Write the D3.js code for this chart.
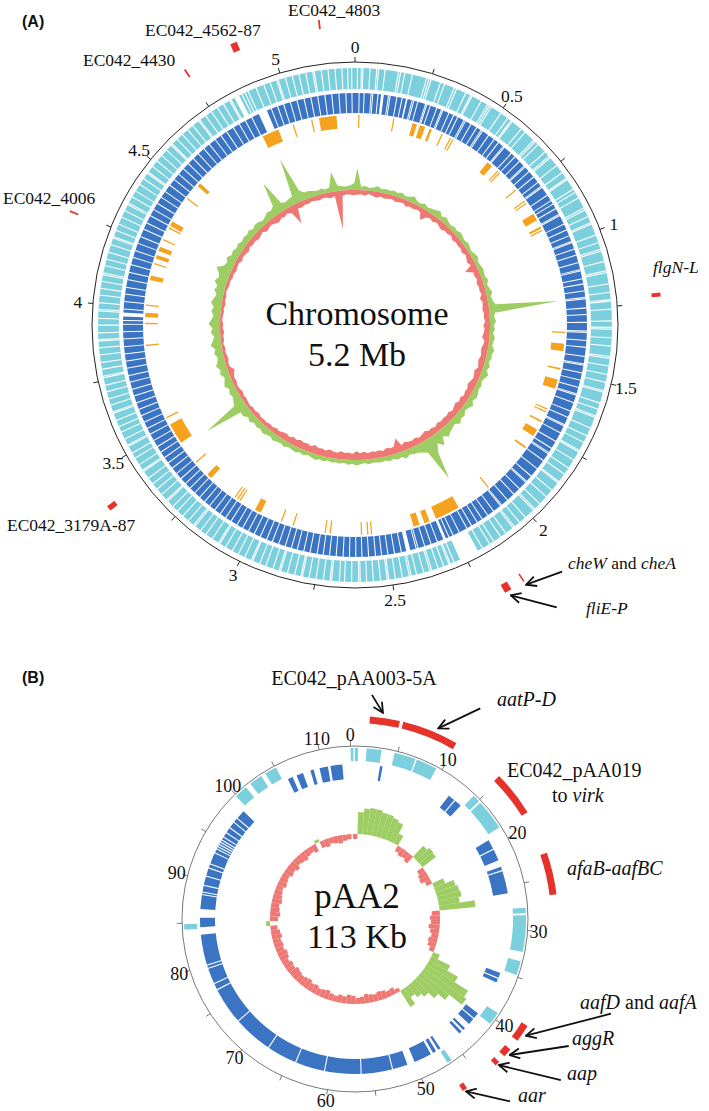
<!DOCTYPE html>
<html>
<head>
<meta charset="utf-8">
<script src="https://cdn.jsdelivr.net/npm/d3@7"></script>
<style>
body { margin: 0; background: #fff; }
text { font-family: "Liberation Serif", "Times New Roman", serif; fill: #111; }
.panel { font-family: "Liberation Sans", Arial, sans-serif; font-weight: bold; }
</style>
</head>
<body>
<div id="chart"></div>
<script>
// ---------- Datos: cromosoma (Mb) ----------
const chrLength = 5.242
const chrTicks = [0, 0.5, 1, 1.5, 2, 2.5, 3, 3.5, 4, 4.5, 5]
const chrTickLabels = ["0", "0.5", "1", "1.5", "2", "2.5", "3", "3.5", "4", "4.5", "5"]
const chrMinorTicks = [0.25, 0.75, 1.25, 1.75, 2.25, 2.75, 3.25, 3.75, 4.25, 4.75]

// white separators in the forward (light) CDS ring
const fwdGaps = [0.008, 0.021, 0.026, 0.049, 0.071, 0.077, 0.098, 0.142, 0.149, 0.163, 0.188, 0.236, 0.244, 0.251, 0.283, 0.297, 0.331, 0.339, 0.372, 0.389, 0.394, 0.428, 0.452, 0.459, 0.466, 0.503, 0.531, 0.544, 0.549, 0.587, 0.603, 0.641, 0.648, 0.661, 0.694, 0.713, 0.719, 0.752, 0.781, 0.804, 0.809, 0.846, 0.858, 0.879, 0.917, 0.924, 0.947, 0.969, 0.974, 1.012, 1.038, 1.061, 1.067, 1.102, 1.133, 1.139, 1.176, 1.204, 1.228, 1.233, 1.259, 1.297, 1.318, 1.324, 1.352, 1.379, 1.413, 1.419, 1.444, 1.472, 1.498, 1.526, 1.531, 1.568, 1.589, 1.612, 1.617, 1.655, 1.683, 1.706, 1.736, 1.741, 1.772, 1.803, 1.827, 1.857, 1.862, 1.893, 1.921, 1.952, 1.975, 1.981, 2.016, 2.041, 2.063, 2.069, 2.098, 2.118, 2.145, 2.161, 2.188, 2.291, 2.304, 2.309, 2.327, 2.346, 2.368, 2.374, 2.395, 2.419, 2.437, 2.443, 2.466, 2.489, 2.511, 2.516, 2.538, 2.561, 2.583, 2.604, 2.609, 2.632, 2.655, 2.672, 2.697, 2.702, 2.724, 2.748, 2.771, 2.793, 2.798, 2.819, 2.843, 2.866, 2.871, 2.892, 2.917, 2.938, 2.962, 2.967, 2.991, 3.014, 3.036, 3.061, 3.083, 3.088, 3.112, 3.137, 3.158, 3.181, 3.187, 3.209, 3.233, 3.257, 3.278, 3.302, 3.307, 3.331, 3.354, 3.376, 3.399, 3.426, 3.431, 3.452, 3.477, 3.496, 3.521, 3.526, 3.548, 3.573, 3.592, 3.614, 3.639, 3.644, 3.667, 3.688, 3.712, 3.734, 3.759, 3.764, 3.787, 3.809, 3.834, 3.857, 3.879, 3.884, 3.906, 3.931, 3.953, 3.977, 3.982, 4.004, 4.029, 4.051, 4.074, 4.096, 4.102, 4.126, 4.148, 4.171, 4.197, 4.219, 4.224, 4.246, 4.268, 4.293, 4.316, 4.338, 4.344, 4.367, 4.389, 4.414, 4.437, 4.458, 4.463, 4.486, 4.509, 4.532, 4.556, 4.578, 4.583, 4.605, 4.628, 4.651, 4.672, 4.697, 4.702, 4.725, 4.748, 4.771, 4.794, 4.817, 4.822, 4.862, 4.873, 4.884, 4.912, 4.939, 4.961, 4.984, 4.989, 5.013, 5.036, 5.058, 5.081, 5.104, 5.109, 5.132, 5.154, 5.177, 5.199, 5.218, 5.231]
const fwdBlanks = [[2.205, 2.27], [4.835, 4.852]]

// white separators in the reverse (dark) CDS ring
const revGaps = [0.015, 0.033, 0.058, 0.064, 0.083, 0.121, 0.127, 0.152, 0.171, 0.208, 0.214, 0.229, 0.258, 0.263, 0.276, 0.301, 0.319, 0.324, 0.348, 0.367, 0.383, 0.408, 0.414, 0.437, 0.461, 0.479, 0.485, 0.512, 0.537, 0.556, 0.578, 0.583, 0.616, 0.634, 0.657, 0.681, 0.686, 0.708, 0.733, 0.758, 0.776, 0.781, 0.815, 0.839, 0.853, 0.872, 0.896, 0.901, 0.935, 0.958, 0.981, 1.003, 1.008, 1.032, 1.055, 1.083, 1.109, 1.114, 1.143, 1.162, 1.187, 1.211, 1.216, 1.249, 1.273, 1.301, 1.332, 1.337, 1.366, 1.391, 1.424, 1.451, 1.456, 1.484, 1.511, 1.538, 1.562, 1.567, 1.595, 1.628, 1.652, 1.681, 1.686, 1.714, 1.749, 1.778, 1.796, 1.801, 1.831, 1.868, 1.902, 1.927, 1.932, 1.964, 1.992, 2.023, 2.051, 2.056, 2.087, 2.113, 2.137, 2.158, 2.182, 2.201, 2.232, 2.257, 2.273, 2.318, 2.342, 2.366, 2.391, 2.398, 2.453, 2.478, 2.502, 2.525, 2.547, 2.572, 2.596, 2.618, 2.641, 2.664, 2.689, 2.713, 2.736, 2.758, 2.784, 2.807, 2.831, 2.853, 2.876, 2.901, 2.925, 2.947, 2.972, 2.996, 3.019, 3.043, 3.066, 3.091, 3.114, 3.138, 3.162, 3.186, 3.209, 3.233, 3.257, 3.281, 3.304, 3.328, 3.352, 3.377, 3.401, 3.424, 3.448, 3.471, 3.497, 3.523, 3.546, 3.571, 3.597, 3.621, 3.646, 3.672, 3.697, 3.724, 3.748, 3.775, 3.801, 3.827, 3.853, 3.881, 3.907, 3.934, 3.948, 3.989, 4.016, 4.043, 4.068, 4.096, 4.123, 4.151, 4.178, 4.204, 4.232, 4.258, 4.287, 4.312, 4.341, 4.366, 4.392, 4.418, 4.443, 4.471, 4.497, 4.522, 4.548, 4.573, 4.599, 4.624, 4.651, 4.676, 4.703, 4.728, 4.753, 4.781, 4.806, 4.831, 4.857, 4.934, 4.958, 4.981, 5.006, 5.031, 5.057, 5.082, 5.107, 5.133, 5.158, 5.184, 5.209, 5.231]
const revBlanks = [[0.094, 0.104], [0.185, 0.191], [2.285, 2.295], [2.42, 2.435], [3.962, 3.976], [4.885, 4.917]]

// orange ring (islands), [start, end] in Mb
const chrIslands = [[0.013, 0.018], [0.153, 0.158], [0.232, 0.250], [0.262, 0.284], [0.303, 0.313], [0.355, 0.360], [0.392, 0.396], [0.403, 0.407], [0.570, 0.594], [0.622, 0.626], [0.632, 0.636], [0.725, 0.730], [0.782, 0.786], [0.793, 0.797], [0.845, 0.875], [0.903, 0.912], [0.918, 0.922], [1.337, 1.342], [1.385, 1.415], [1.483, 1.490], [1.530, 1.568], [1.652, 1.657], [1.664, 1.669], [1.705, 1.712], [1.745, 1.775], [1.826, 1.834], [2.045, 2.050], [2.190, 2.290], [2.318, 2.340], [2.360, 2.385], [2.553, 2.557], [2.568, 2.572], [2.593, 2.597], [2.718, 2.722], [2.738, 2.742], [2.868, 2.873], [2.918, 2.923], [3.010, 3.035], [3.103, 3.107], [3.114, 3.118], [3.126, 3.130], [3.250, 3.272], [3.335, 3.340], [3.435, 3.520], [3.548, 3.553], [3.848, 3.852], [3.935, 3.940], [3.962, 3.980], [4.008, 4.013], [4.112, 4.130], [4.176, 4.181], [4.200, 4.215], [4.232, 4.250], [4.278, 4.283], [4.330, 4.336], [4.342, 4.362], [4.468, 4.473], [4.535, 4.550], [4.862, 4.930], [4.990, 4.995], [5.066, 5.071], [5.098, 5.168]]

// GC plot, windows of 0.025 Mb: above average (green, outwards) and below (red, inwards)
const chrWindow = 0.025
const chrGCHigh = [34, 8, 10, 7, 9, 12, 8, 10, 9, 11, 9, 12, 8, 10, 14, 9, 7, 11, 8, 10, 12, 15, 9, 13, 10, 8, 11, 9, 12, 10, 8, 11, 9, 7, 10, 12, 8, 9, 11, 10, 9, 12, 8, 10, 13, 9, 11, 14, 84, 12, 10, 13, 9, 11, 8, 12, 10, 9, 14, 11, 12, 9, 13, 10, 15, 11, 9, 12, 10, 13, 14, 11, 16, 12, 10, 15, 13, 18, 12, 14, 16, 20, 14, 25, 18, 28, 60, 22, 18, 15, 14, 12, 16, 11, 13, 10, 12, 9, 11, 10, 9, 11, 8, 10, 12, 9, 11, 8, 10, 9, 10, 8, 11, 9, 12, 10, 8, 11, 9, 12, 11, 9, 13, 10, 12, 14, 11, 13, 15, 12, 14, 12, 16, 13, 18, 17, 62, 20, 17, 14, 16, 13, 18, 15, 12, 17, 14, 19, 15, 13, 17, 14, 20, 16, 13, 18, 15, 21, 17, 14, 18, 15, 20, 17, 14, 19, 16, 22, 18, 20, 26, 17, 15, 19, 14, 16, 13, 15, 12, 14, 12, 15, 11, 14, 13, 10, 12, 16, 14, 18, 48, 16, 13, 15, 16, 62, 20, 14, 14, 12, 10, 12, 9, 11, 32, 12, 10, 9, 11, 14]
const chrGCLow = [7, 6, 8, 5, 7, 9, 6, 8, 7, 6, 8, 7, 6, 9, 7, 8, 6, 7, 17, 9, 7, 9, 6, 8, 10, 7, 8, 6, 9, 7, 8, 7, 9, 6, 8, 10, 7, 19, 8, 9, 7, 10, 8, 9, 7, 11, 8, 9, 10, 8, 9, 7, 10, 8, 9, 11, 7, 8, 10, 9, 8, 10, 9, 7, 11, 9, 8, 10, 12, 9, 10, 8, 11, 9, 12, 10, 8, 11, 9, 10, 9, 11, 8, 10, 9, 12, 10, 8, 11, 9, 10, 12, 9, 22, 11, 10, 12, 9, 11, 10, 11, 9, 12, 10, 13, 9, 11, 10, 12, 9, 10, 12, 9, 11, 10, 13, 9, 11, 10, 12, 9, 11, 8, 10, 9, 7, 8, 6, 7, 5, 6, 5, 7, 5, 6, 4, 5, 6, 5, 7, 5, 4, 6, 5, 7, 10, 5, 4, 6, 5, 4, 5, 3, 5, 4, 6, 4, 5, 3, 4, 5, 4, 6, 4, 5, 3, 4, 5, 4, 6, 5, 7, 6, 5, 8, 6, 7, 9, 6, 8, 7, 9, 8, 6, 10, 8, 7, 9, 11, 8, 9, 7, 10, 30, 8, 9, 7, 8, 6, 7, 8, 6, 7, 9, 7, 58, 8, 6, 7, 8]

// highlighted loci outside the chromosome
const chrLoci = [[5.141, 5.146], [4.893, 4.912], [4.749, 4.754], [4.246, 4.251], [1.222, 1.233], [3.390, 3.405], [2.133, 2.137], [2.175, 2.195]]
const chrLociNames = ["EC042_4803", "EC042_4562-87", "EC042_4430", "EC042_4006", "flgN-L", "EC042_3179A-87", "cheW and cheA", "fliE-P"]

// ---------- Datos: plasmido pAA2 (kb) ----------
const plsLength = 113.3
const plsTicks = [0, 10, 20, 30, 40, 50, 60, 70, 80, 90, 100, 110]
const plsTickLabels = ["0", "10", "20", "30", "40", "50", "60", "70", "80", "90", "100", "110"]
const plsMinorTicks = [5, 15, 25, 35, 45, 55, 65, 75, 85, 95, 105]
const plsFwd = [[0.0, 0.3], [0.45, 0.8], [1.7, 3.3], [4.7, 7.0], [7.15, 9.4], [14.3, 15.1], [15.3, 18.6], [27.6, 28.2], [28.4, 32.3], [33.3, 34.8], [39.3, 40.7], [46.3, 46.8], [84.3, 84.9], [99.9, 101.3], [101.9, 103.3], [103.8, 105.1]]
const plsRev = [[3.4, 3.7], [12.2, 13.0], [13.15, 14.0], [19.2, 20.3], [20.45, 21.8], [22.6, 23.0], [23.15, 25.8], [35.2, 35.8], [35.95, 36.4], [40.6, 41.3], [41.45, 42.2], [42.9, 43.2], [43.45, 43.8], [46.6, 46.9], [47.2, 47.6], [47.9, 50.0], [50.9, 83.6], [84.5, 85.6], [86.6, 99.3], [105.7, 106.3], [106.8, 107.6], [108.5, 108.9], [109.6, 110.6], [110.9, 112.3]]
const plsRevGaps = [52.7, 56.4, 60.7, 64.2, 67.8, 72.5, 76.9, 77.7, 79.6, 80.0, 88.3, 88.6, 89.4, 90.5, 91.5, 92.0, 93.4, 93.9, 94.2, 94.5, 94.8, 95.1, 95.5, 96.1, 96.8, 97.6, 98.2]
// GC deviation per 1 kb window (positive green outwards, negative red inwards)
const plsGC = [-5, 22, 26, 27, 27, 25, 25, 23, 21, 11, -6, -8, -7, -9, 15, 18, 17, -7, -9, -10, -6, 12, 21, 23, 24, 21, 36, -8, -10, -9, -11, -9, -7, -9, -8, -5, 7, 21, 33, 49, 52, 36, 27, 19, 15, 11, 19, -4, -7, -6, -8, -9, -7, -8, -9, -7, -6, -8, -9, -7, -8, -6, -7, -9, -8, -7, -9, -8, -10, -9, -8, -9, -10, -8, -9, -7, -9, -10, -8, -9, -8, -10, -9, -7, 4, -8, -10, -9, -8, -10, -9, -8, -7, -9, -8, -7, -9, -8, -10, -7, -8, -9, -7, -6, -8, 3, -7, -8, -6, -7, -8, -6, -5]
const plsRegions = [[1.8, 4.5], [4.8, 9.9], [14.7, 18.8], [22.8, 26.6], [38.8, 40.4], [41.4, 42.2], [42.9, 43.3], [46.6, 47.0]]
const plsRegionNames = ["EC042_pAA003-5A", "aatP-D", "EC042_pAA019 to virk", "afaB-aafBC", "aafD and aafA", "aggR", "aap", "aar"]

// ---------- Colores ----------
const fwdColor = "#7ccfdc"
const revColor = "#3b74c3"
const islandColor = "#f5a31e"
const highColor = "#9dcd63"
const lowColor = "#ee7873"
const locusColor = "#e5322b"

const width = 709
const height = 1111
const TAU = 2 * Math.PI

const svg = d3.select("#chart").append("svg")
    .attr("width", width)
    .attr("height", height)

svg.append("defs").append("marker")
    .attr("id", "head")
    .attr("viewBox", "0 0 12 12")
    .attr("refX", 11).attr("refY", 6)
    .attr("markerWidth", 12).attr("markerHeight", 12)
    .attr("markerUnits", "userSpaceOnUse")
    .attr("orient", "auto")
    .append("path")
    .attr("d", "M1,1 L11,6 L1,11")
    .attr("fill", "none").attr("stroke", "#111").attr("stroke-width", 1.8)

const arc = d3.arc()

function ring(g, r0, r1, color) {
    g.append("path")
        .attr("d", arc({innerRadius: r0, outerRadius: r1, startAngle: 0, endAngle: TAU}))
        .attr("fill", color)
}
function segments(g, data, angle, r0, r1, color, minPx) {
    g.append("g").selectAll("path")
        .data(data)
        .join("path")
        .attr("d", d => {
            let a0 = angle(d[0]), a1 = angle(d[1])
            const minA = minPx / r1
            if (a1 - a0 < minA) { const m = (a0 + a1) / 2; a0 = m - minA / 2; a1 = m + minA / 2 }
            return arc({innerRadius: r0, outerRadius: r1, startAngle: a0, endAngle: a1})
        })
        .attr("fill", color)
}
function lines(g, data, angle, r0, r1, w) {
    g.append("g").selectAll("path")
        .data(data)
        .join("path")
        .attr("d", d => {
            const h = w / 2 / ((r0 + r1) / 2)
            return arc({innerRadius: r0 - 0.3, outerRadius: r1 + 0.3, startAngle: angle(d) - h, endAngle: angle(d) + h})
        })
        .attr("fill", "#fff")
}
function polar(a, r) { return [r * Math.sin(a), -r * Math.cos(a)] }

function axisCircle(g, angle, r, ticks, labels, minor, rLabel, color, sw, fontSize) {
    g.append("circle").attr("r", r).attr("fill", "none").attr("stroke", color).attr("stroke-width", sw)
    g.append("g").selectAll("line")
        .data(ticks.concat(minor))
        .join("line")
        .attr("x1", d => polar(angle(d), r)[0]).attr("y1", d => polar(angle(d), r)[1])
        .attr("x2", d => polar(angle(d), r + 5)[0]).attr("y2", d => polar(angle(d), r + 5)[1])
        .attr("stroke", color).attr("stroke-width", sw)
    g.append("g").selectAll("text")
        .data(ticks)
        .join("text")
        .attr("x", d => polar(angle(d), rLabel)[0])
        .attr("y", d => polar(angle(d), rLabel)[1])
        .attr("text-anchor", "middle")
        .attr("dy", "0.35em")
        .style("font-size", fontSize + "px")
        .text((d, i) => labels[i])
}

// ================= Panel A =================
const gA = svg.append("g").attr("transform", "translate(355,325)")
const angA = d3.scaleLinear().domain([0, chrLength]).range([0, TAU])

ring(gA, 236, 257, fwdColor)
lines(gA, fwdGaps, angA, 236, 257, 1.1)
segments(gA, fwdBlanks, angA, 235.5, 257.5, "#fff", 0)
ring(gA, 212, 232, revColor)
lines(gA, revGaps, angA, 212, 232, 1.0)
segments(gA, revBlanks, angA, 211.5, 232.5, "#fff", 0)
segments(gA, chrIslands, angA, 197, 210, islandColor, 1.3)

// GC plot
const gcHighA = d3.scalePow().exponent(1.3).domain([0, 60]).range([0, 45])
const gcLowA = d3.scaleLinear().domain([0, 60]).range([0, 40])
const baseA = 135
const winMid = (i, w) => (i + 0.5) * w
function gcPath(values, angle, w, base, sign, sc) {
    const outer = d3.lineRadial().curve(d3.curveLinearClosed)
        .angle((d, i) => angle(winMid(i, w)))
        .radius(d => base + sign * sc(d))
    const inner = d3.lineRadial().curve(d3.curveLinearClosed)
        .angle((d, i) => angle(winMid(i, w)))
        .radius(base)
    return outer(values) + inner(values)
}
gA.append("path").attr("d", gcPath(chrGCHigh, angA, chrWindow, baseA, 1, gcHighA))
    .attr("fill", highColor).attr("fill-rule", "evenodd")
gA.append("path").attr("d", gcPath(chrGCLow, angA, chrWindow, baseA, -1, gcLowA))
    .attr("fill", lowColor).attr("fill-rule", "evenodd")

segments(gA, chrLoci, angA, 298, 307, locusColor, 1.6)
axisCircle(gA, angA, 263, chrTicks, chrTickLabels, chrMinorTicks, 278, "#222", 1, 17.5)

gA.append("text").attr("x", 2).attr("y", 0).attr("text-anchor", "middle").style("font-size", "34px").text("Chromosome")
gA.append("text").attr("x", 2).attr("y", 41).attr("text-anchor", "middle").style("font-size", "34px").text("5.2 Mb")

svg.append("text").attr("class", "panel").attr("x", 22).attr("y", 27).style("font-size", "16px").text("(A)")

// etiquetas de loci (posiciones de texto)
const labA = [
    {i: 0, x: 288, y: 16, anchor: "start"},
    {i: 1, x: 145, y: 36, anchor: "start"},
    {i: 2, x: 83, y: 66, anchor: "start"},
    {i: 3, x: 3, y: 204, anchor: "start"},
    {i: 4, x: 653, y: 273, anchor: "start", italic: true},
    {i: 5, x: 7, y: 531, anchor: "start"}
]
labA.forEach(l => {
    svg.append("text").attr("x", l.x).attr("y", l.y).attr("text-anchor", l.anchor)
        .style("font-size", "17.5px").style("font-style", l.italic ? "italic" : "normal")
        .text(chrLociNames[l.i])
})
const che = svg.append("text").attr("x", 568).attr("y", 569).style("font-size", "17.5px")
che.append("tspan").style("font-style", "italic").text("cheW")
che.append("tspan").text(" and ")
che.append("tspan").style("font-style", "italic").text("cheA")
svg.append("text").attr("x", 586).attr("y", 614).style("font-size", "17.5px").style("font-style", "italic").text("fliE-P")

function arrow(cx, cy, angle, pos, r, dx, dy) {
    const p = polar(angle(pos), r)
    const tip = [cx + p[0], cy + p[1]]
    svg.append("line")
        .attr("x1", tip[0] + dx).attr("y1", tip[1] + dy)
        .attr("x2", tip[0]).attr("y2", tip[1])
        .attr("stroke", "#111").attr("stroke-width", 1.8)
        .attr("marker-end", "url(#head)")
}
arrow(355, 325, angA, (chrLoci[6][0] + chrLoci[6][1]) / 2, 311, 36, -13)
arrow(355, 325, angA, (chrLoci[7][0] + chrLoci[7][1]) / 2, 312, 46, 12)

// ================= Panel B =================
const gB = svg.append("g").attr("transform", "translate(355,919)")
const off = -1.5 * Math.PI / 180
const angB = d3.scaleLinear().domain([0, plsLength]).range([off, TAU + off])

segments(gB, plsFwd, angB, 158, 171, fwdColor, 1)
segments(gB, plsRev, angB, 140, 155, revColor, 1)
lines(gB, plsRevGaps, angB, 140, 155, 1.1)

const gcB = d3.scaleLinear().domain([0, 60]).range([0, 60])
const baseB = 85
gB.append("g").selectAll("path")
    .data(plsGC)
    .join("path")
    .attr("d", (d, i) => arc({
        innerRadius: d > 0 ? baseB : baseB - gcB(-d),
        outerRadius: d > 0 ? baseB + gcB(d) : baseB,
        startAngle: angB(i), endAngle: angB(Math.min(i + 1, plsLength))
    }))
    .attr("fill", d => d > 0 ? highColor : lowColor)

segments(gB, plsRegions, angB, 196, 203, locusColor, 5)
axisCircle(gB, angB, 173, plsTicks, plsTickLabels, plsMinorTicks, 184, "#555", 0.8, 18)

gB.append("text").attr("x", 2).attr("y", -11).attr("text-anchor", "middle").style("font-size", "35px").text("pAA2")
gB.append("text").attr("x", 2).attr("y", 29).attr("text-anchor", "middle").style("font-size", "34px").text("113 Kb")

svg.append("text").attr("class", "panel").attr("x", 22).attr("y", 683).style("font-size", "16px").text("(B)")

const fs = "20px"
svg.append("text").attr("x", 354).attr("y", 685).attr("text-anchor", "middle").style("font-size", fs).text(plsRegionNames[0])
svg.append("text").attr("x", 497).attr("y", 706).style("font-size", fs).style("font-style", "italic").text(plsRegionNames[1])
svg.append("text").attr("x", 507).attr("y", 777).style("font-size", fs).text("EC042_pAA019")
const vk = svg.append("text").attr("x", 552).attr("y", 802).style("font-size", fs)
vk.append("tspan").text("to ")
vk.append("tspan").style("font-style", "italic").text("virk")
svg.append("text").attr("x", 567).attr("y", 875).style("font-size", fs).style("font-style", "italic").text(plsRegionNames[3])
const af = svg.append("text").attr("x", 580).attr("y", 1009).style("font-size", fs)
af.append("tspan").style("font-style", "italic").text("aafD")
af.append("tspan").text(" and ")
af.append("tspan").style("font-style", "italic").text("aafA")
svg.append("text").attr("x", 572).attr("y", 1045).style("font-size", fs).style("font-style", "italic").text(plsRegionNames[5])
svg.append("text").attr("x", 567).attr("y", 1080).style("font-size", fs).style("font-style", "italic").text(plsRegionNames[6])
svg.append("text").attr("x", 518).attr("y", 1102).style("font-size", fs).style("font-style", "italic").text(plsRegionNames[7])

const midB = i => (plsRegions[i][0] + plsRegions[i][1]) / 2
arrow(355, 919, angB, 2.9, 208, -11, -18)
arrow(355, 919, angB, 7.9, 208, 42, -20)
arrow(355, 919, angB, midB(4), 207, 85, -22)
arrow(355, 919, angB, midB(5), 206, 59, -9)
arrow(355, 919, angB, midB(6), 205, 62, 15)
arrow(355, 919, angB, midB(7), 205, 44, 10)
</script>
</body>
</html>
